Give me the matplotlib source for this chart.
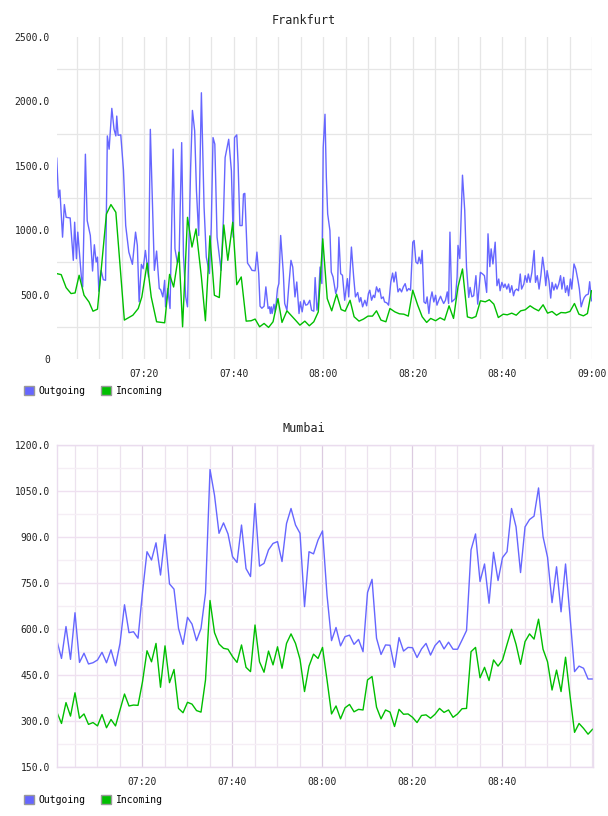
import matplotlib
matplotlib.use("Agg")
import matplotlib.pyplot as plt
from matplotlib.patches import Patch
from matplotlib.ticker import MultipleLocator, FixedLocator, FuncFormatter

# time axis is minutes after 07:00
top_out_t = [0.5, 0.9, 1.2, 1.8, 2.2, 2.6, 3.5, 4.2, 4.5, 4.9,
             5.2, 6.0, 6.3, 6.9, 7.3, 8.0, 8.5, 8.9, 9.3, 9.6,
             9.9, 10.4, 10.9, 11.4, 11.8, 12.2, 12.8, 13.3, 13.7, 13.9,
             14.2, 14.8, 15.4, 15.9, 16.6, 17.4, 18.1, 18.5, 18.9, 19.4,
             19.8, 20.3, 20.6, 21.0, 21.4, 22.3, 22.8, 23.4, 23.7, 24.2,
             24.6, 24.8, 25.3, 25.8, 26.5, 26.9, 27.4, 27.8, 28.4, 28.8,
             29.3, 29.7, 30.4, 30.8, 31.3, 31.7, 32.2, 32.8, 33.4, 33.9,
             34.6, 35.0, 35.4, 35.8, 36.3, 37.2, 37.7, 38.1, 38.9, 39.5,
             39.9, 40.2, 40.7, 41.0, 41.4, 41.9, 42.2, 42.5, 43.1, 43.6,
             44.1, 44.8, 45.2, 45.6, 45.9, 46.3, 46.8, 47.2, 47.7, 48.0,
             48.2, 48.4, 48.6, 49.0, 49.3, 49.8, 50.1, 50.5, 51.1, 51.4,
             51.9, 52.3, 52.8, 53.2, 53.7, 54.1, 54.6, 54.9, 55.3, 55.7,
             56.1, 56.5, 57.0, 57.4, 57.9, 58.2, 58.6, 58.9, 59.3, 59.7,
             60.0, 60.4, 60.7, 61.0, 61.5, 61.8, 62.2, 62.8, 63.2, 63.5,
             63.9, 64.3, 64.8, 65.4, 65.7, 66.3, 66.8, 67.2, 67.7, 68.1,
             68.4, 68.8, 69.3, 69.7, 70.1, 70.4, 70.8, 71.2, 71.5, 71.9,
             72.3, 72.6, 73.0, 73.4, 73.7, 74.2, 74.6, 75.1, 75.5, 75.8,
             76.2, 76.7, 77.1, 77.5, 77.9, 78.3, 78.7, 79.1, 79.5, 80.0,
             80.3, 80.7, 81.1, 81.4, 81.8, 82.1, 82.5, 82.9, 83.2, 83.6,
             83.9, 84.3, 84.7, 85.1, 85.4, 85.8, 86.2, 86.5, 86.9, 87.3,
             87.7, 88.0, 88.3, 88.7, 89.1, 89.5, 89.9, 90.1, 90.5, 91.1,
             91.6, 92.0, 92.5, 92.8, 93.2, 93.6, 94.1, 94.5, 95.1, 95.6,
             96.0, 96.5, 96.8, 97.2, 97.5, 97.9, 98.4, 98.8, 99.2, 99.5,
             99.9, 100.3, 100.6, 101.0, 101.4, 101.7, 102.1, 102.5, 102.8, 103.2,
             103.6, 104.0, 104.3, 104.8, 105.1, 105.5, 105.8, 106.2, 106.6, 107.1,
             107.4, 107.8, 108.2, 108.6, 109.0, 109.4, 109.7, 110.0, 110.4, 110.8,
             111.1, 111.5, 111.9, 112.2, 112.6, 113.0, 113.3, 113.7, 114.1, 114.5,
             114.8, 115.2, 115.5, 116.0, 116.4, 116.9, 117.2, 117.6, 118.0, 118.3,
             118.7, 119.2, 119.5, 119.9]
top_out_v = [1559, 1255, 1312, 946, 1199, 1100, 1095, 766, 1062, 779,
             985, 637, 559, 1590, 1075, 959, 683, 887, 753, 791,
             526, 688, 616, 611, 1732, 1629, 1946, 1783, 1732, 1886,
             1737, 1740, 1467, 1036, 830, 735, 985, 882, 444, 735,
             701, 843, 753, 637, 1783, 688, 838, 547, 539, 482,
             611, 405, 547, 392, 1629, 856, 753, 753, 1680, 804,
             482, 405, 1487, 1930, 1771, 1307, 959, 2067, 1178, 791,
             663, 1023, 1719, 1668, 946, 688, 1075, 1564, 1706, 1461,
             946, 1719, 1740, 1513, 1036, 1036, 1281, 1286, 745, 719,
             688, 685, 830, 663, 410, 394, 410, 560, 392, 405,
             353, 405, 353, 425, 366, 547, 586, 959, 663, 431,
             379, 560, 766, 714, 482, 598, 353, 444, 366, 456,
             418, 423, 456, 379, 371, 632, 379, 444, 714, 586,
             1642, 1900, 1410, 1126, 997, 675, 637, 508, 560, 946,
             662, 650, 456, 624, 482, 869, 637, 482, 516, 443,
             477, 405, 456, 413, 508, 534, 456, 495, 477, 560,
             521, 547, 469, 482, 443, 436, 418, 598, 667, 598,
             675, 521, 547, 521, 560, 585, 528, 547, 534, 907,
             920, 753, 740, 791, 740, 843, 443, 431, 482, 353,
             456, 521, 443, 495, 418, 456, 487, 461, 431, 456,
             521, 431, 985, 443, 456, 469, 637, 882, 780, 1427,
             1154, 712, 478, 556, 483, 491, 647, 426, 673, 660,
             647, 517, 972, 717, 855, 738, 907, 569, 621, 530,
             595, 556, 582, 543, 582, 517, 569, 491, 530, 543,
             530, 660, 543, 582, 647, 595, 660, 595, 673, 842,
             595, 647, 543, 647, 790, 686, 569, 686, 608, 473,
             595, 535, 582, 543, 582, 647, 543, 634, 517, 569,
             491, 621, 543, 738, 699, 608, 543, 405, 452, 478,
             496, 504, 600, 452]

top_in_t = [0.5, 1.5, 2.6, 3.7, 4.6, 5.5, 6.6, 7.7, 8.6, 9.6,
            11.6, 12.6, 13.7, 15.6, 17.5, 18.7, 19.5, 20.7, 21.6, 22.8,
            24.6, 25.7, 26.6, 27.8, 28.6, 29.7, 30.7, 31.6, 32.8, 33.7,
            34.7, 35.7, 36.8, 37.8, 38.7, 39.8, 40.7, 41.7, 42.8, 43.9,
            44.8, 45.8, 46.8, 47.8, 48.8, 49.9, 50.8, 51.9, 52.8, 53.8,
            54.8, 55.9, 56.9, 57.9, 58.9, 59.9, 60.9, 61.9, 63.0, 64.0,
            64.9, 66.0, 66.9, 68.0, 69.0, 70.0, 71.0, 71.9, 72.9, 74.0,
            74.9, 76.0, 77.0, 78.0, 79.0, 80.0, 81.1, 82.1, 83.1, 84.0,
            85.1, 86.1, 87.1, 88.1, 89.1, 90.1, 91.1, 92.2, 93.2, 94.1,
            95.1, 96.2, 97.1, 98.1, 99.1, 100.2, 101.1, 102.1, 103.1, 104.1,
            105.1, 106.2, 107.1, 108.1, 109.1, 110.1, 111.1, 112.1, 113.1, 114.1,
            115.1, 116.1, 117.1, 118.1, 119.0, 119.9]
top_in_v = [663, 655, 554, 508, 513, 650, 495, 443, 371, 387,
            1126, 1199, 1139, 302, 340, 392, 482, 745, 482, 289,
            281, 657, 559, 830, 250, 1100, 869, 1010, 637, 297,
            956, 495, 477, 1041, 766, 1062, 577, 637, 294, 297,
            310, 250, 276, 245, 289, 469, 284, 374, 340, 302,
            263, 294, 258, 289, 366, 933, 469, 374, 503, 384,
            371, 456, 328, 294, 310, 333, 333, 374, 302, 289,
            392, 366, 351, 348, 333, 534, 418, 328, 284, 315,
            297, 320, 302, 413, 315, 560, 699, 327, 317, 330,
            452, 444, 460, 426, 322, 348, 343, 356, 340, 374,
            382, 413, 392, 374, 421, 356, 369, 340, 361, 358,
            369, 431, 348, 335, 353, 530]

# Mumbai is sampled once a minute, starting 07:01
mum_start = 1.1
mum_out = [561, 504, 608, 501, 653, 491, 521, 486, 490, 499,
           524, 490, 532, 480, 553, 679, 588, 591, 570, 720,
           852, 825, 881, 776, 908, 747, 730, 602, 550, 638,
           616, 562, 602, 717, 1120, 1036, 912, 946, 910, 836,
           817, 939, 797, 771, 1009, 805, 814, 858, 879, 885,
           820, 944, 993, 939, 912, 673, 852, 845, 890, 920,
           710, 562, 605, 545, 575, 580, 550, 566, 526, 719,
           762, 570, 517, 548, 547, 475, 572, 528, 540, 539,
           507, 535, 553, 515, 546, 562, 535, 557, 534, 534,
           564, 595, 858, 910, 755, 812, 684, 850, 758, 833,
           852, 993, 933, 784, 933, 957, 968, 1060, 901, 834,
           686, 803, 656, 812, 640, 461, 479, 472, 437, 437]
mum_in = [328, 292, 360, 316, 392, 309, 323, 289, 295, 284,
          321, 278, 305, 284, 336, 388, 349, 352, 351, 428,
          529, 493, 553, 410, 545, 425, 468, 341, 327, 361,
          355, 334, 329, 434, 693, 588, 551, 537, 534, 510,
          491, 548, 475, 461, 613, 493, 459, 528, 483, 542,
          472, 553, 584, 553, 501, 396, 479, 518, 504, 540,
          434, 323, 349, 307, 343, 354, 330, 338, 336, 434,
          445, 345, 307, 336, 329, 282, 338, 322, 323, 312,
          295, 318, 320, 309, 322, 341, 328, 336, 312, 323,
          340, 341, 526, 540, 441, 475, 432, 499, 479, 499,
          550, 599, 550, 485, 559, 584, 567, 632, 534, 493,
          401, 466, 396, 508, 382, 263, 292, 276, 257, 273]
mum_t = [mum_start + i for i in range(len(mum_out))]

OUT_COLOR = "#6666ff"
IN_COLOR = "#00bf00"
MONO = "DejaVu Sans Mono"
W, H = 608, 816


def hhmm(v, pos=None):
    m = int(round(v))
    return "%02d:%02d" % (7 + m // 60, m % 60)


def add_legend(fig, ax, top_px):
    handles = [Patch(facecolor=OUT_COLOR, edgecolor="#999999", label="Outgoing"),
               Patch(facecolor=IN_COLOR, edgecolor="#999999", label="Incoming")]
    ax.legend(handles=handles, loc="upper left",
              bbox_to_anchor=(24 / W, 1 - top_px / H), bbox_transform=fig.transFigure,
              ncol=2, frameon=False, borderpad=0, borderaxespad=0,
              handlelength=1.0, handleheight=1.0, handletextpad=0.5,
              columnspacing=1.6, prop={"family": MONO, "size": 7})


def style_axes(ax, ymin, ymax, ystep, fmt):
    ax.yaxis.set_major_locator(MultipleLocator(ystep))
    ax.yaxis.set_major_formatter(FuncFormatter(fmt))
    ax.xaxis.set_major_locator(FixedLocator([20, 40, 60, 80, 100, 120]))
    ax.xaxis.set_major_formatter(FuncFormatter(hhmm))
    ax.xaxis.set_minor_locator(MultipleLocator(5))
    ax.set_ylim(ymin, ymax)
    ax.tick_params(which="both", length=0, labelsize=7, colors="#222222")
    ax.tick_params(axis="x", pad=7)
    ax.tick_params(axis="y", pad=5)
    for lab in ax.get_xticklabels() + ax.get_yticklabels():
        lab.set_family(MONO)
    ax.set_axisbelow(True)


fig = plt.figure(figsize=(W / 100, H / 100), dpi=100)

# ---- Frankfurt
ax1 = fig.add_axes([57 / W, 1 - 359 / H, (592 - 57) / W, (359 - 37) / H])
ax1.plot(top_out_t, top_out_v, color=OUT_COLOR, lw=1.0)
ax1.plot(top_in_t, top_in_v, color=IN_COLOR, lw=1.0)
ax1.set_xlim(0.56, 120.02)
style_axes(ax1, 0, 2500, 500, lambda v, p: "0" if v == 0 else "%.1f" % v)
ax1.yaxis.set_minor_locator(FixedLocator([250, 750, 1250, 1750, 2250]))
ax1.grid(True, axis="x", which="both", color="#e6e6e6", lw=0.9)
ax1.grid(True, axis="y", which="minor", color="#e6e6e6", lw=0.9)
ax1.grid(False, axis="y", which="major")
for s in ax1.spines.values():
    s.set_visible(False)
fig.text(0.5, 1 - 20 / H, "Frankfurt", ha="center", va="center",
         family=MONO, fontsize=8.5, color="#222222")
add_legend(fig, ax1, 386)

# ---- Mumbai
ax2 = fig.add_axes([57 / W, 1 - 767 / H, (593 - 57) / W, (767 - 445) / H])
ax2.plot(mum_t, mum_out, color=OUT_COLOR, lw=1.0)
ax2.plot(mum_t, mum_in, color=IN_COLOR, lw=1.0)
ax2.set_xlim(1.1, 120.2)
style_axes(ax2, 150, 1200, 150, lambda v, p: "%.1f" % v)
ax2.xaxis.set_major_locator(FixedLocator([20, 40, 60, 80, 100]))
ax2.yaxis.set_minor_locator(MultipleLocator(75))
ax2.grid(True, axis="x", which="major", color="#dccbe0", lw=0.9)
ax2.grid(True, axis="x", which="minor", color="#ece2ee", lw=0.9)
ax2.grid(True, axis="y", which="major", color="#efe0f0", lw=1.0)
ax2.grid(True, axis="y", which="minor", color="#f5eef5", lw=1.0)
for s in ax2.spines.values():
    s.set_color("#eadcee")
    s.set_linewidth(1.0)
fig.text(0.5, 1 - 428 / H, "Mumbai", ha="center", va="center",
         family=MONO, fontsize=8.5, color="#222222")
add_legend(fig, ax2, 795)

fig.savefig("out.png", dpi=100)
